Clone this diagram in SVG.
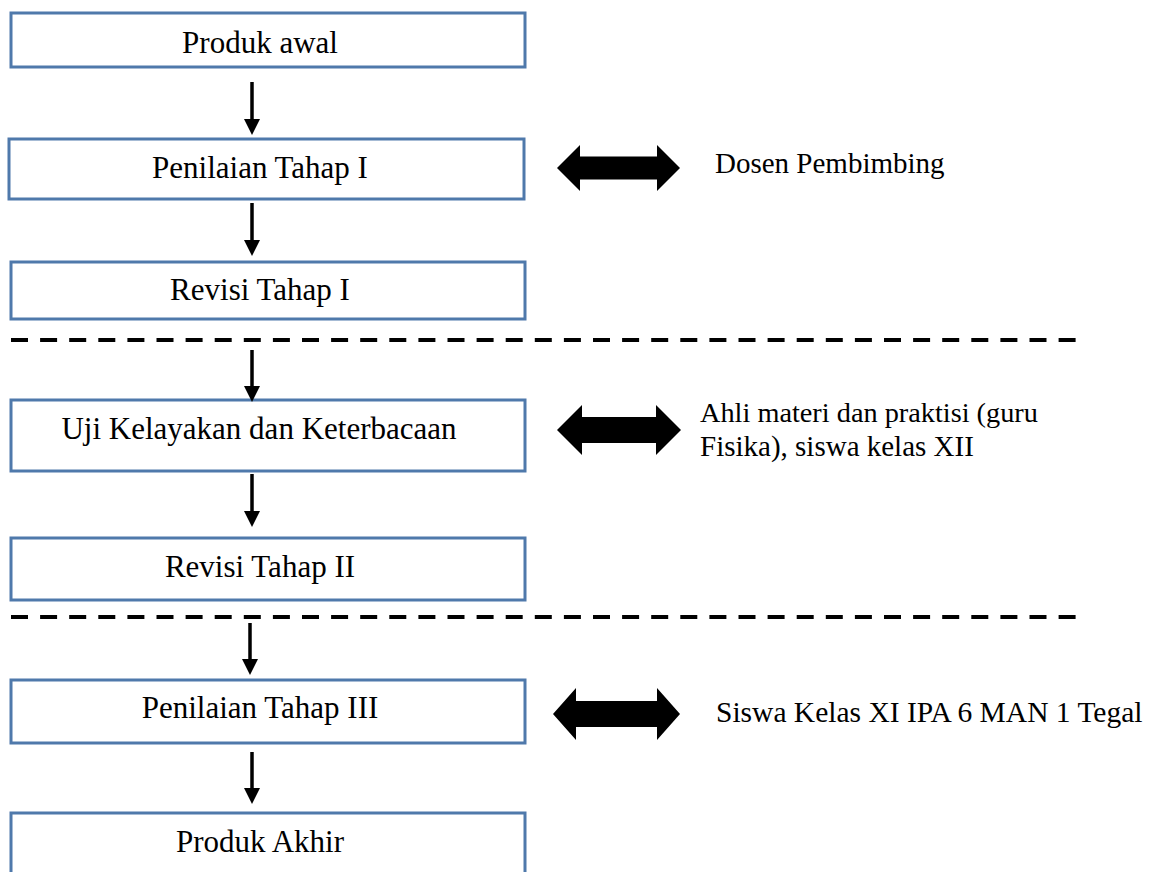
<svg xmlns="http://www.w3.org/2000/svg" width="1159" height="872" viewBox="0 0 1159 872">
<style>
.box{fill:#fff;stroke:#4F79AB;stroke-width:3}
.t{font-family:"Liberation Serif","Times New Roman",serif;font-size:31px;fill:#000;text-anchor:middle}
.r{font-family:"Liberation Serif","Times New Roman",serif;font-size:29px;fill:#000}
.sh{stroke:#000;stroke-width:3.5;fill:none}
.hd{fill:#000}
.dash{stroke:#000;stroke-width:4;stroke-dasharray:17 12.1}
</style>
<rect width="1159" height="872" fill="#fff"/>
<g id="n1"><rect class="box" x="11" y="13" width="514" height="54"/><text class="t" x="260" y="53">Produk awal</text></g>
<g id="n2"><rect class="box" x="9" y="139" width="515" height="60"/><text class="t" x="260" y="178">Penilaian Tahap I</text></g>
<g id="n3"><rect class="box" x="11" y="262" width="514" height="57"/><text class="t" x="260" y="300">Revisi Tahap I</text></g>
<g id="n4"><rect class="box" x="11" y="400" width="514" height="71"/><text class="t" x="259" y="439">Uji Kelayakan dan Keterbacaan</text></g>
<g id="n5"><rect class="box" x="11" y="538" width="514" height="62"/><text class="t" x="260" y="577">Revisi Tahap II</text></g>
<g id="n6"><rect class="box" x="11" y="680" width="514" height="63"/><text class="t" x="260" y="718">Penilaian Tahap III</text></g>
<g id="n7"><rect class="box" x="11" y="813" width="514" height="80"/><text class="t" x="260" y="852">Produk Akhir</text></g>
<g id="l1"><text class="r" x="715" y="173">Dosen Pembimbing</text></g>
<g id="l2"><text class="r" x="700" y="422" style="font-size:28.3px">Ahli materi dan praktisi (guru</text><text class="r" x="700" y="456">Fisika), siswa kelas XII</text></g>
<g id="l3"><text class="r" x="716" y="722" style="font-size:29.5px">Siswa Kelas XI IPA 6 MAN 1 Tegal</text></g>
<g id="connectors">
<line class="dash" x1="11" y1="340" x2="1076" y2="340"/>
<line class="dash" x1="11" y1="617" x2="1076" y2="617"/>
<line class="sh" x1="252" y1="82" x2="252" y2="121"/><path class="hd" d="M244,119 L260,119 L252,135 Z"/>
<line class="sh" x1="252" y1="203" x2="252" y2="242"/><path class="hd" d="M244,240 L260,240 L252,256 Z"/>
<line class="sh" x1="252" y1="350" x2="252" y2="388"/><path class="hd" d="M244,386 L260,386 L252,402 Z"/>
<line class="sh" x1="252" y1="474" x2="252" y2="513"/><path class="hd" d="M244,511 L260,511 L252,527 Z"/>
<line class="sh" x1="250" y1="623" x2="250" y2="661"/><path class="hd" d="M242,659 L258,659 L250,675 Z"/>
<line class="sh" x1="252" y1="752" x2="252" y2="790"/><path class="hd" d="M244,788 L260,788 L252,804 Z"/>
<path class="hd" d="M557,168 L580,145 L580,156.5 L657,156.5 L657,145 L680,168 L657,191 L657,179.5 L580,179.5 L580,191 Z"/>
<path class="hd" d="M557,430 L582,405 L582,417 L656,417 L656,405 L681,430 L656,455 L656,443 L582,443 L582,455 Z"/>
<path class="hd" d="M553,714 L576,688 L576,701 L657,701 L657,688 L680,714 L657,740 L657,727 L576,727 L576,740 Z"/>
</g>
</svg>
